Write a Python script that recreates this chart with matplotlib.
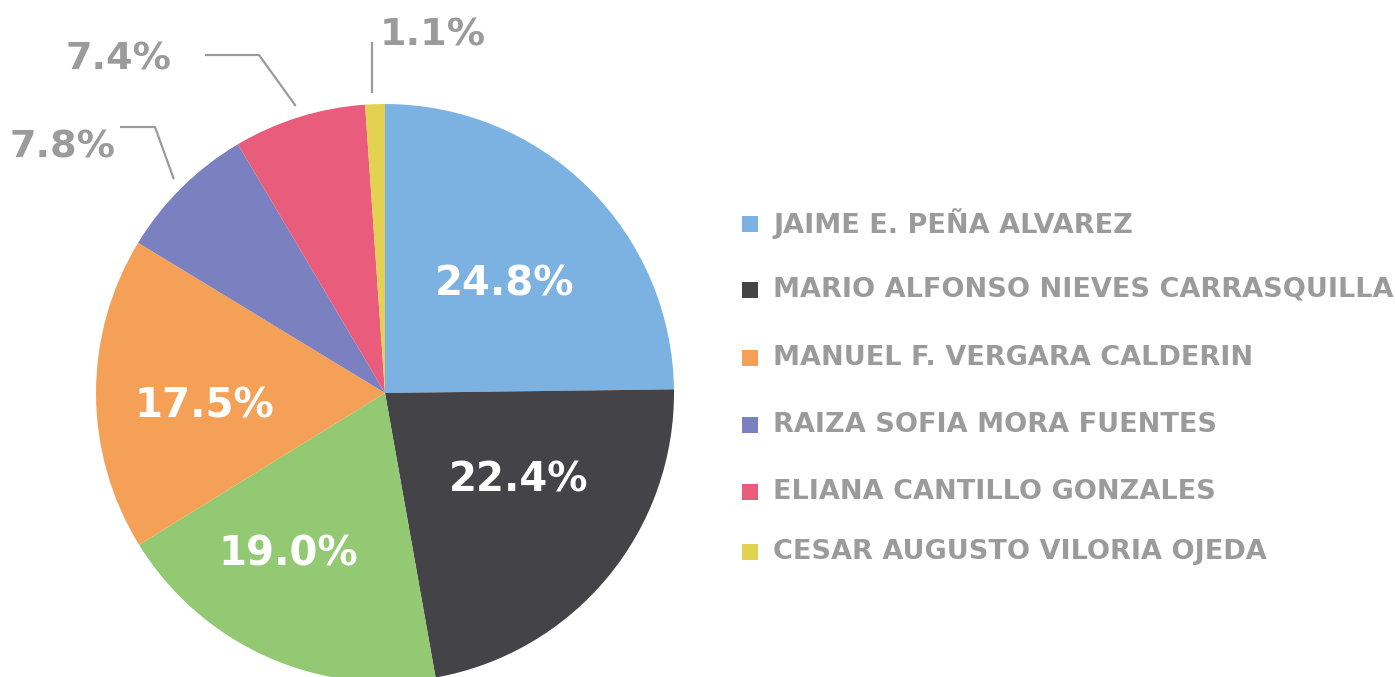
import numpy as np
import matplotlib

matplotlib.use("Agg")
import matplotlib.pyplot as plt

# slice order, clockwise from 12 o'clock
names = [
    "JAIME E. PEÑA ALVAREZ",
    "MARIO ALFONSO NIEVES CARRASQUILLA",
    None,  # green slice, not shown in the legend
    "MANUEL F. VERGARA CALDERIN",
    "RAIZA SOFIA MORA FUENTES",
    "ELIANA CANTILLO GONZALES",
    "CESAR AUGUSTO VILORIA OJEDA",
]
shares = [24.8, 22.4, 19.0, 17.5, 7.8, 7.4, 1.1]
colors = ["#7cb2e2", "#434348", "#93c973", "#f4a157", "#7b80c0", "#e95c7b", "#e3d152"]

W, H = 1395, 677
CX, CY, R = 385, H - 393, 289
GREY = "#9b9b9b"
FONT = "DejaVu Sans"

fig = plt.figure(figsize=(W / 100, H / 100), dpi=100, facecolor="white")
ax = fig.add_axes([0, 0, 1, 1])

wedges, _ = ax.pie(
    shares, colors=colors, startangle=90, counterclock=False,
    center=(CX, CY), radius=R, wedgeprops=dict(linewidth=0),
)
ax.set_xlim(0, W)
ax.set_ylim(0, H)
ax.set_aspect("equal")
ax.axis("off")


def mid_point(w, frac):
    a = np.deg2rad((w.theta1 + w.theta2) / 2)
    return CX + frac * R * np.cos(a), CY + frac * R * np.sin(a)


# big slices: white label inside (centres in pixels, top-down)
inside = {0: (505, 284), 1: (519, 480), 2: (288, 554), 3: (204, 406)}
for i, (px, py) in inside.items():
    ax.text(px, H - py, f"{shares[i]:.1f}%", color="white", fontsize=29,
            fontweight="bold", family=FONT, ha="center", va="center")

# small slices: grey label outside with an elbow leader
# (elbow, line end, label anchor) in pixels, top-down
leaders = {
    4: ((155, 127), (120, 127), (116, 147)),
    5: ((259, 55), (205, 55), (171, 59)),
    6: ((372, 42), (372, 42), (380, 35)),
}
for i, (elbow, end, txt) in leaders.items():
    x0, y0 = mid_point(wedges[i], 1.04)
    if elbow == end:
        x0 = elbow[0]
    ax.plot([x0, elbow[0], end[0]], [y0, H - elbow[1], H - end[1]], color=GREY,
            lw=1.6, solid_capstyle="butt")
    ax.text(txt[0], H - txt[1], f"{shares[i]:.1f}%", color=GREY, fontsize=27.5,
            fontweight="bold", family=FONT,
            ha="left" if i == 6 else "right", va="center")

# legend drawn by hand: square + label per named slice
rows = [224, 290, 358, 425, 492, 552]
named = [(w, n) for w, n in zip(wedges, names) if n is not None]
for (w, name), ry in zip(named, rows):
    y = H - ry
    ax.scatter([750], [y], marker="s", s=120, color=w.get_facecolor(), linewidths=0)
    ax.text(773, y, name, color=GREY, fontsize=19.5, fontweight="bold", family=FONT,
            ha="left", va="center")

fig.savefig("out.png", dpi=100, facecolor="white")
